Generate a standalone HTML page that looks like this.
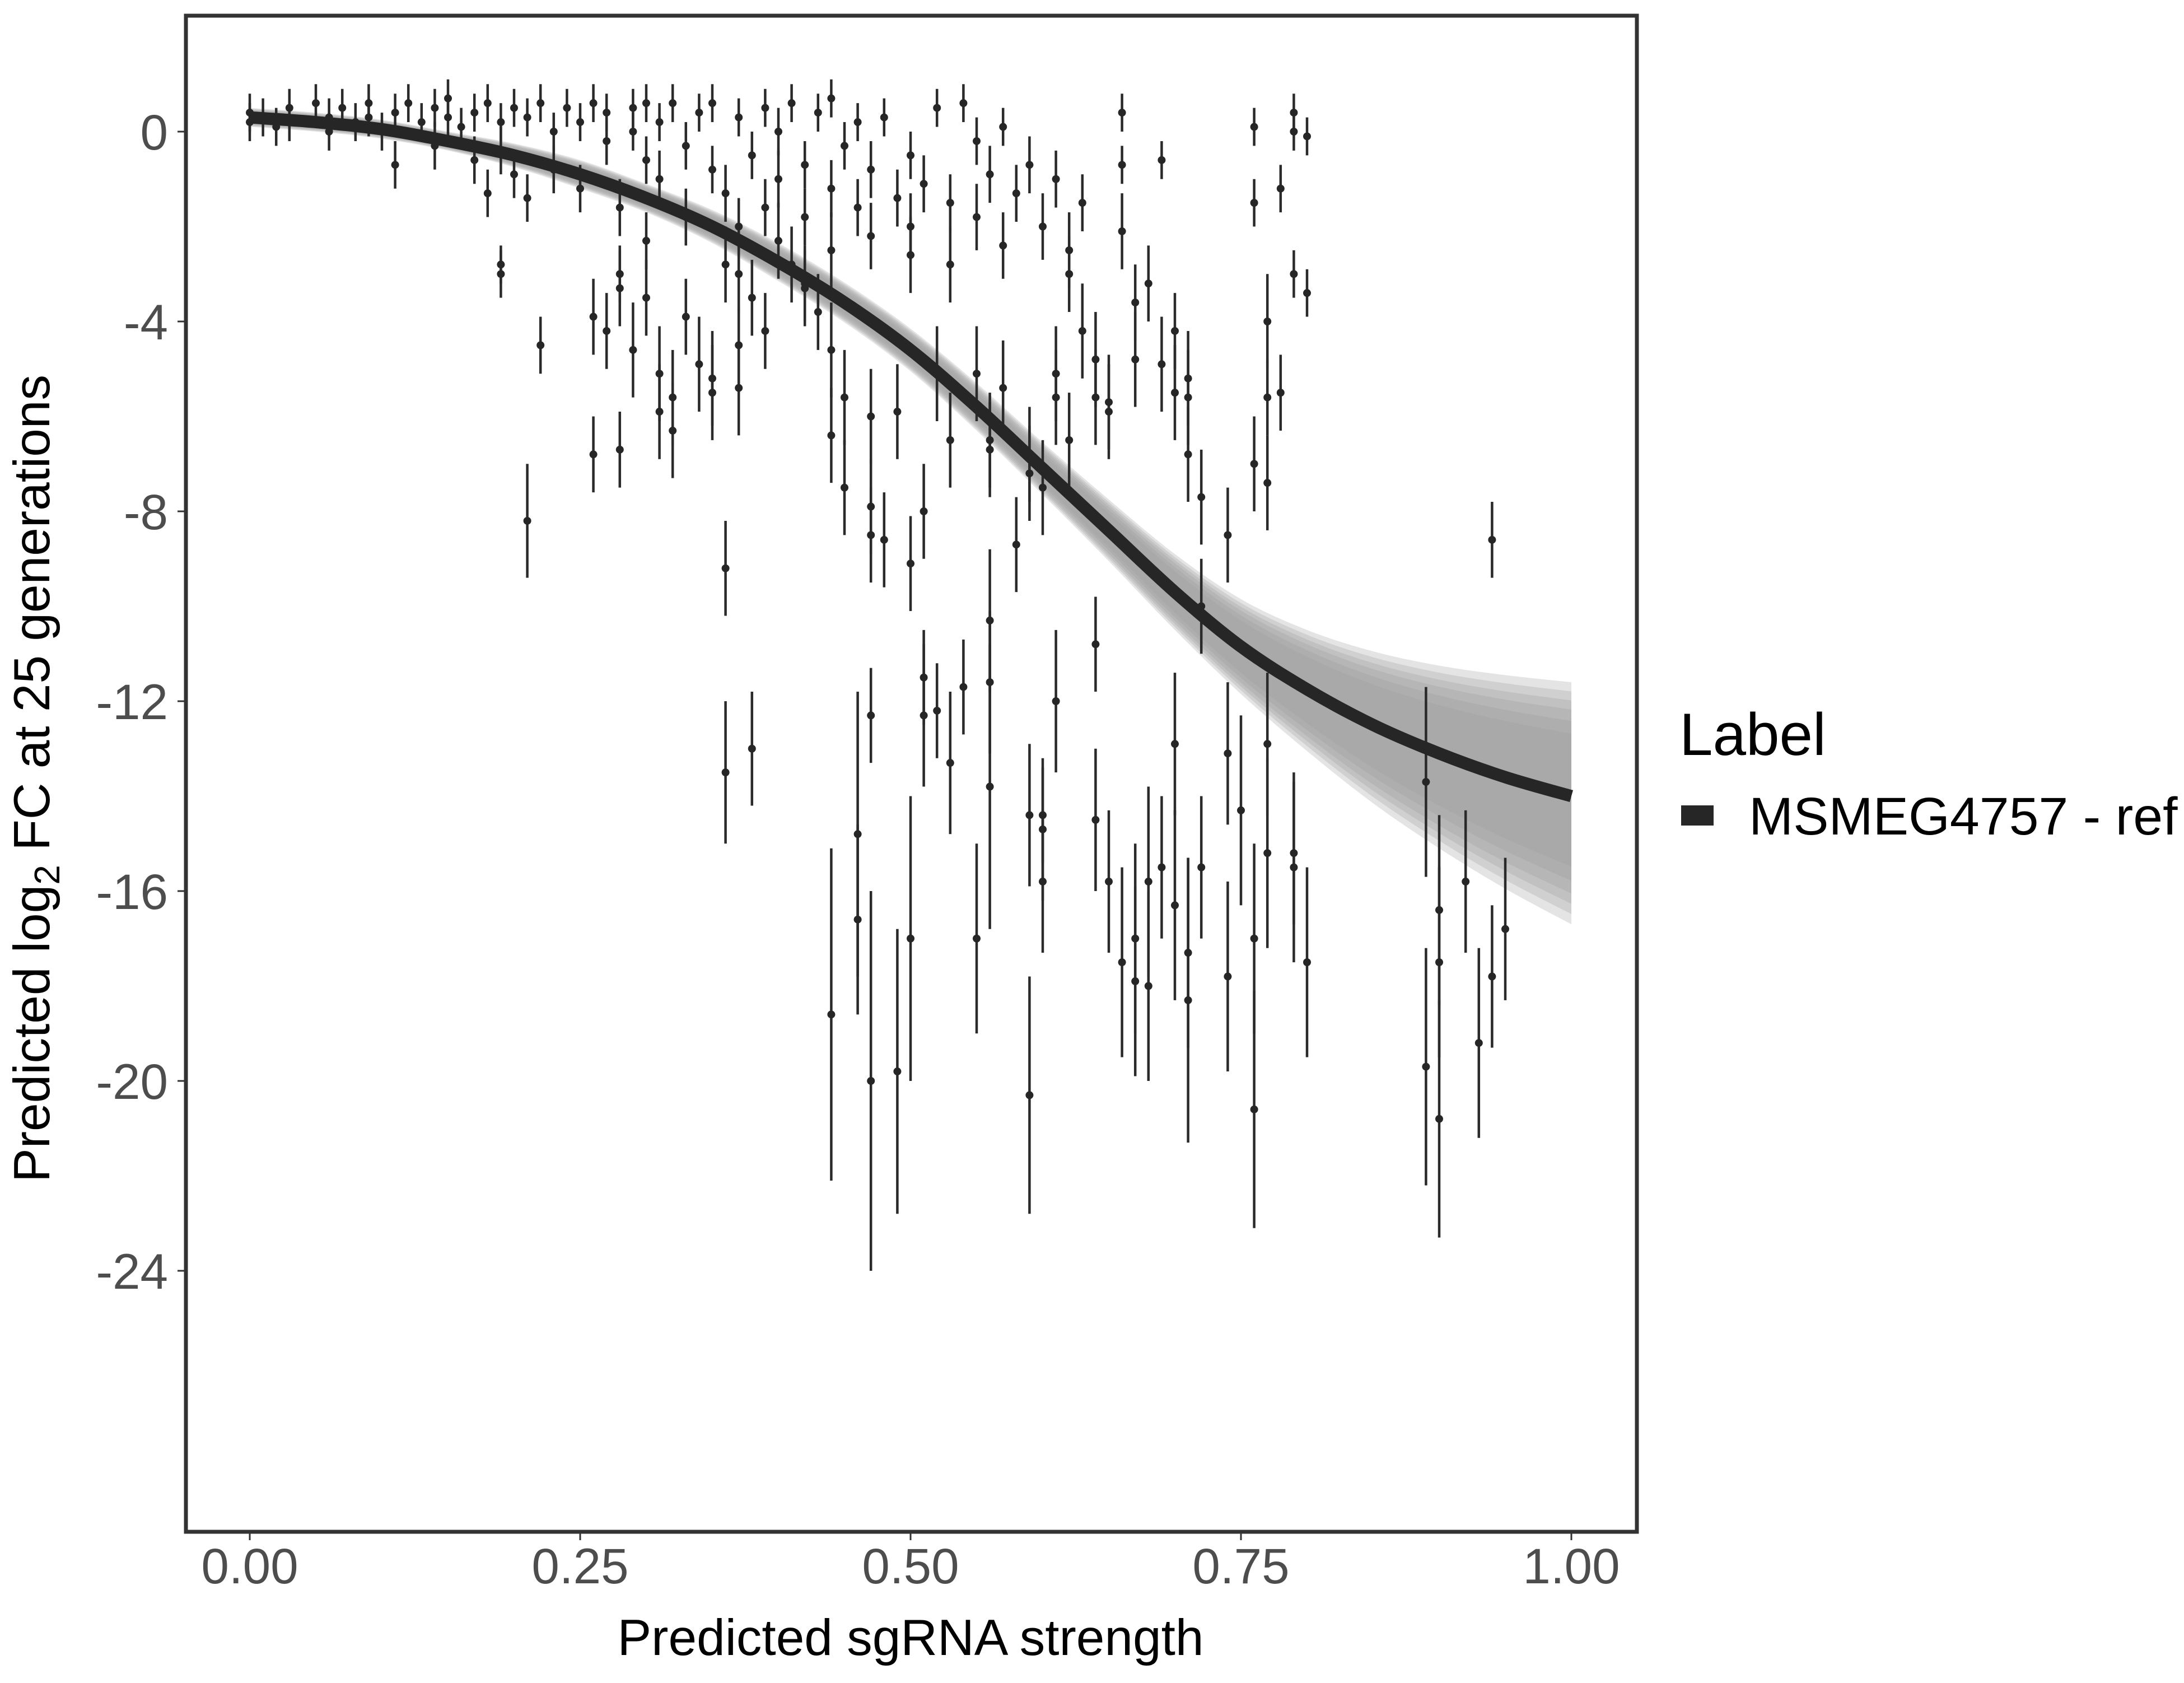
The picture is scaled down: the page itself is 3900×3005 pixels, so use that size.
<!DOCTYPE html>
<html><head><meta charset="utf-8">
<style>
html,body{margin:0;padding:0;background:#fff;}
svg text{font-family:"Liberation Sans",sans-serif;}
</style></head>
<body>
<svg id="chart" width="3900" height="3000" viewBox="0 0 3900 3000" xmlns="http://www.w3.org/2000/svg">
<rect x="0" y="0" width="3900" height="3000" fill="#fff"/>
<g id="band"></g>
<g id="bars"></g>
<g id="pts"></g>
<g id="fit"></g>
<rect x="332" y="28" width="2591" height="2707" fill="none" stroke="#333" stroke-width="7"/>
<g id="xaxis"></g>
<g id="yaxis"></g>
<text x="1626" y="2955" font-size="91" text-anchor="middle" fill="#000">Predicted sgRNA strength</text>
<text transform="translate(88,1390) rotate(-90)" font-size="91" text-anchor="middle" fill="#000">Predicted  log<tspan font-size="64" dy="18">2</tspan><tspan dy="-18"> FC at 25 generations</tspan></text>
<g>
<text x="2999" y="1348" font-size="107" fill="#000">Label</text>
<rect x="3002" y="1438" width="58" height="36" fill="#262626"/>
<text x="3123" y="1490" font-size="95" fill="#000">MSMEG4757 - ref</text>
</g>
</svg>
<script>
const curveX = [0,0.05,0.1,0.15,0.2,0.25,0.3,0.35,0.4,0.45,0.5,0.55,0.6,0.65,0.7,0.75,0.8,0.85,0.9,0.95,1.0];
const curveY = [0.3,0.2,0.05,-0.2,-0.5,-0.9,-1.4,-2.0,-2.75,-3.6,-4.6,-5.8,-7.1,-8.4,-9.7,-10.85,-11.75,-12.5,-13.1,-13.6,-14.0];
const bandUpper = [0.2,0.2,0.2,0.2,0.25,0.3,0.3,0.35,0.4,0.42,0.45,0.5,0.55,0.65,0.8,1.0,1.25,1.55,1.85,2.15,2.4];
const bandLower = [0.2,0.2,0.2,0.2,0.25,0.3,0.3,0.35,0.4,0.42,0.45,0.5,0.55,0.65,0.8,1.0,1.3,1.65,2.0,2.35,2.7];
const xTicks = [0,0.25,0.5,0.75,1.0];
const xTickLabels = ["0.00","0.25","0.50","0.75","1.00"];
const yTicks = [0,-4,-8,-12,-16,-20,-24];
const yTickLabels = ["0","-4","-8","-12","-16","-20","-24"];
const strength = [
0.19,0.19,0.22,0.21,0.36,0.36,0.38,0.44,0.46,0.46,0.47,0.47,0.49,0.50,0.50,0.51,0.51,0.52,0.53,0.54,0.55,0.56,0.56,0.56,0.59,0.59,0.60,0.60,0.60,0.61,0.64,0.64,0.65,0.66,0.67,0.67,0.68,0.68,0.69,0.70,0.70,0.71,0.71,0.72,0.74,0.74,0.74,0.75,0.76,0.76,0.77,0.77,0.79,0.79,0.80,0.89,0.89,0.90,0.90,0.90,0.92,0.93,0.94,0.95,0.94,
0.44,0.44,0.45,0.45,0.47,0.47,0.47,0.48,0.49,0.50,0.51,0.52,0.53,0.53,0.55,0.56,0.56,0.57,0.58,0.59,0.59,0.60,0.61,0.61,0.62,0.62,0.63,0.64,0.64,0.65,0.65,0.66,0.67,0.67,0.68,0.69,0.70,0.70,0.71,0.71,0.71,0.72,0.72,0.76,0.77,0.77,0.77,0.78,0.79,0.80,0.78,0.76,0.76,0.79,0.80,0.79,0.66,0.69,0.66,
0.26,0.26,0.27,0.28,0.28,0.28,0.29,0.30,0.30,0.31,0.31,0.32,0.32,0.33,0.34,0.35,0.35,0.36,0.37,0.37,0.37,0.38,0.39,0.40,0.41,0.42,0.42,0.43,0.44,
0.00,0.00,0.01,0.02,0.03,0.03,0.05,0.06,0.06,0.07,0.08,0.09,0.09,0.10,0.11,0.11,0.12,0.13,0.14,0.14,0.15,0.15,0.16,0.17,0.17,0.18,0.18,0.19,0.19,0.20,0.20,0.21,0.21,0.22,0.23,0.23,0.24,0.25,0.25,0.26,0.27,0.27,0.28,0.29,0.29,0.30,0.30,0.31,0.31,0.32,0.33,0.33,0.34,0.35,0.35,0.36,0.37,0.37,0.38,0.39,0.39,0.40,0.40,0.41,0.42,0.42,0.43,0.44,0.44,0.45,0.46,0.46,0.47,0.47,0.48,0.49,0.50,0.50,0.51,0.52,0.53,0.54,0.55,0.55,0.56,0.57,0.57,0.58,0.59,0.60,0.61,0.62,0.63];
const lfc = [
-2.8,-3,-4.5,-8.2,-9.2,-13.5,-13,-18.6,-16.6,-14.8,-20,-12.3,-19.8,-17,-9.1,-11.5,-12.3,-12.2,-13.3,-11.7,-17,-10.3,-11.6,-13.8,-20.3,-14.4,-14.7,-15.8,-14.4,-12,-10.8,-14.5,-15.8,-17.5,-17,-17.9,-15.8,-18,-15.5,-12.9,-16.3,-18.3,-17.3,-15.5,-17.8,-13.1,-8.5,-14.3,-17,-20.6,-12.9,-15.2,-15.2,-15.5,-17.5,-19.7,-13.7,-20.8,-16.4,-17.5,-15.8,-19.2,-17.8,-16.8,-8.6,
-4.6,-6.4,-7.5,-5.6,-6,-8.5,-7.9,-8.6,-5.9,-2.6,-8,-5.1,-6.5,-2.8,-5.1,-6.5,-6.7,-5.4,-8.7,-6.8,-7.2,-7.5,-5.6,-5.1,-2.5,-6.5,-4.2,-4.8,-5.6,-5.9,-5.7,-2.1,-3.6,-4.8,-3.2,-4.9,-4.2,-5.5,-5.6,-5.2,-6.8,-7.7,-10,-7,-4,-7.4,-5.6,-5.5,-3,-3.4,-1.2,-1.5,0.1,0,-0.1,0.4,0.4,-0.6,-0.7,
-6.8,-3.9,-4.2,-3.3,-3,-6.7,-4.6,-3.5,-2.3,-5.1,-5.9,-6.3,-5.6,-3.9,-4.9,-5.2,-5.5,-2.8,-5.4,-3,-4.5,-3.5,-4.2,-2.3,-2.8,-3.3,-3.2,-3.8,-2.5,
0.4,0.2,0.3,0.1,0.5,0.2,0.6,0.3,0.0,0.5,0.2,0.6,0.3,0.0,-0.7,0.4,0.6,0.2,0.5,-0.3,0.3,0.7,0.1,-0.6,0.4,0.6,-1.3,0.2,-0.4,0.5,-0.9,-1.4,0.3,0.6,0.0,-0.8,0.5,0.2,-1.2,0.6,-0.2,0.4,-1.6,0.5,0.0,-0.6,0.6,-1.0,0.2,0.6,-1.8,-0.3,0.4,-0.8,0.6,-1.3,0.3,-2.0,-0.5,0.5,-1.6,0.0,-1.0,0.6,-0.7,-1.8,0.4,-1.2,0.7,-0.3,-1.6,0.2,-0.8,-2.2,0.3,-1.4,-0.5,-2.0,-1.1,0.5,-1.5,0.6,-0.2,-1.8,-0.9,0.1,-2.4,-1.3,-0.7,-2.0,-1.0,-3.0,-1.5];
const errHalf = [
0.4,0.5,0.6,1.2,1,1.5,1.2,3.5,2,3,4,1,3,3,1,1,1.5,1,1.5,1,2,1.5,1.5,3,2.5,1.5,1.5,1.5,1,1.5,1,1.5,1.5,2,2,2,2,2,1.5,1.5,2,3,2,1.5,2,1.5,1,2,2,2.5,1.5,2,1.5,2,2,2.5,2,2.5,2,2,1.5,2,1.5,1.5,0.8,
1,1,1,1,1,1,1,1,1,0.8,1,1,1,0.8,1,1,1,1,1,1,1,1,1,1,0.8,1,1,1,1,1,1,0.8,0.8,1,0.8,1,0.8,1,1,1,1,1,1,1,1,1,0.8,0.8,0.5,0.5,0.5,0.5,0.4,0.4,0.4,0.4,0.4,0.4,0.4,
0.8,0.8,0.8,0.8,0.6,0.8,1,0.8,0.6,1,1,1,1,0.8,1,1,1,0.8,1,0.8,0.8,0.8,0.8,0.8,0.8,0.8,0.8,0.8,0.8,
0.4,0.4,0.4,0.4,0.4,0.4,0.4,0.4,0.4,0.4,0.4,0.4,0.4,0.4,0.5,0.4,0.4,0.4,0.4,0.5,0.4,0.4,0.4,0.5,0.4,0.4,0.5,0.4,0.5,0.4,0.5,0.5,0.4,0.4,0.4,0.5,0.4,0.4,0.5,0.4,0.5,0.4,0.6,0.4,0.4,0.5,0.4,0.6,0.4,0.4,0.6,0.5,0.4,0.5,0.4,0.6,0.4,0.6,0.5,0.4,0.6,0.5,0.6,0.4,0.5,0.6,0.4,0.6,0.4,0.5,0.6,0.4,0.6,0.7,0.4,0.6,0.5,0.7,0.6,0.4,0.6,0.4,0.5,0.7,0.6,0.4,0.7,0.6,0.6,0.7,0.6,0.8,0.6];

const NS = "http://www.w3.org/2000/svg";
const X0 = 446, X1 = 2806, Y0 = 235, YU = 84.75;
function sx(v){ return X0 + (X1 - X0) * v; }
function sy(v){ return Y0 - YU * v; }
function smoothPath(xs, ys){
  const p = xs.map((x,i)=>[sx(x), sy(ys[i])]);
  let d = "M" + p[0][0] + "," + p[0][1];
  for (let i=0;i<p.length-1;i++){
    const a=p[Math.max(0,i-1)], b=p[i], c=p[i+1], e=p[Math.min(p.length-1,i+2)];
    const c1x=b[0]+(c[0]-a[0])/6, c1y=b[1]+(c[1]-a[1])/6;
    const c2x=c[0]-(e[0]-b[0])/6, c2y=c[1]-(e[1]-b[1])/6;
    d += " C"+c1x+","+c1y+" "+c2x+","+c2y+" "+c[0]+","+c[1];
  }
  return d;
}
// band
const band = document.getElementById('band');
const layers = [1.0, 0.92, 0.84, 0.76, 0.66, 0.55];
layers.forEach((f)=>{
  const u = curveY.map((v,i)=>v+bandUpper[i]*f);
  const l = curveY.map((v,i)=>v-bandLower[i]*f);
  const pu = smoothPath(curveX, u);
  const rx = curveX.slice().reverse(), rl = l.slice().reverse();
  const pl = smoothPath(rx, rl).replace(/^M/, " L");
  const el = document.createElementNS(NS,'path');
  el.setAttribute('d', pu + pl + " Z");
  el.setAttribute('fill', '#9a9a9a');
  el.setAttribute('fill-opacity', '0.27');
  
  
  band.appendChild(el);
});
// error bars & points
const bars = document.getElementById('bars'), pts = document.getElementById('pts');
strength.forEach((s,i)=>{
  const x = sx(s);
  const ln = document.createElementNS(NS,'line');
  ln.setAttribute('x1', x); ln.setAttribute('x2', x);
  ln.setAttribute('y1', sy(lfc[i]+errHalf[i])); ln.setAttribute('y2', sy(lfc[i]-errHalf[i]));
  ln.setAttribute('stroke', '#2a2a2a'); ln.setAttribute('stroke-width', '4.5');
  
  
  bars.appendChild(ln);
  const c = document.createElementNS(NS,'circle');
  c.setAttribute('cx', x); c.setAttribute('cy', sy(lfc[i])); c.setAttribute('r', '7');
  c.setAttribute('fill', '#262626');
  
  
  pts.appendChild(c);
});
// fit
const fit = document.getElementById('fit');
const fp = document.createElementNS(NS,'path');
fp.setAttribute('d', smoothPath(curveX, curveY));
fp.setAttribute('fill','none'); fp.setAttribute('stroke','#262626'); fp.setAttribute('stroke-width','22');


fit.appendChild(fp);
// axes
const xa = document.getElementById('xaxis');
xTicks.forEach((t,i)=>{
  const tk = document.createElementNS(NS,'line');
  tk.setAttribute('x1', sx(t)); tk.setAttribute('x2', sx(t));
  tk.setAttribute('y1', 2738); tk.setAttribute('y2', 2750);
  tk.setAttribute('stroke','#333'); tk.setAttribute('stroke-width','3');
  
  
  xa.appendChild(tk);
  const tx = document.createElementNS(NS,'text');
  tx.setAttribute('x', sx(t)); tx.setAttribute('y', 2827);
  tx.setAttribute('font-size','89'); tx.setAttribute('text-anchor','middle'); tx.setAttribute('fill','#4d4d4d');
  tx.textContent = xTickLabels[i];
  
  
  xa.appendChild(tx);
});
const ya = document.getElementById('yaxis');
yTicks.forEach((t,i)=>{
  const tk = document.createElementNS(NS,'line');
  tk.setAttribute('x1', 317); tk.setAttribute('x2', 329);
  tk.setAttribute('y1', sy(t)); tk.setAttribute('y2', sy(t));
  tk.setAttribute('stroke','#333'); tk.setAttribute('stroke-width','3');
  
  
  ya.appendChild(tk);
  const tx = document.createElementNS(NS,'text');
  tx.setAttribute('x', 300); tx.setAttribute('y', sy(t)+32);
  tx.setAttribute('font-size','89'); tx.setAttribute('text-anchor','end'); tx.setAttribute('fill','#4d4d4d');
  tx.textContent = yTickLabels[i];
  
  
  ya.appendChild(tx);
});
</script>
</body></html>
